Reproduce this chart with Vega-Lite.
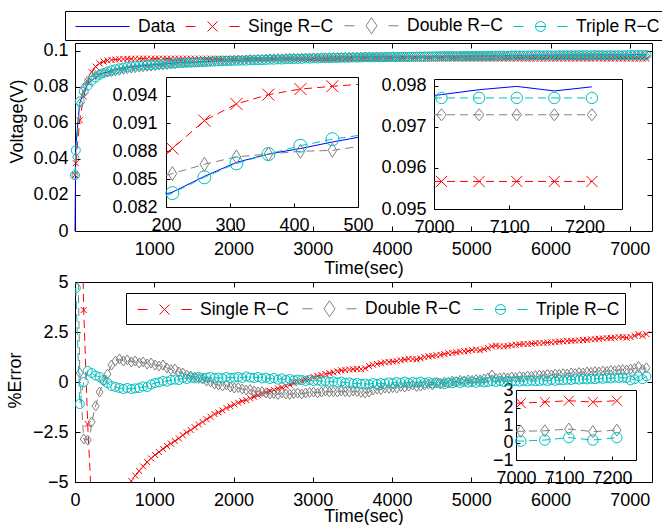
{
"$schema":"https://vega.github.io/schema/vega-lite/v6.json",
"padding":{"left":6,"top":10,"right":0,"bottom":0},
"background":"white",
"config":{
"font":"Liberation Sans",
"view":{"stroke":null},
"axis":{"grid":false,"domainColor":"black","domainWidth":1,"tickColor":"black","tickWidth":1,"tickSize":-5,"labelColor":"black","labelFont":"Liberation Sans","labelFontSize":18,"labelFlush":false,"labelOverlap":false,"labelBound":false,"titleFont":"Liberation Sans","titleFontSize":18,"titleFontWeight":"normal","titleColor":"black","zindex":1},
"legend":{"orient":"none","direction":"horizontal","title":null,"labelFont":"Liberation Sans","labelFontSize":17.5,"labelColor":"black","strokeColor":"black","fillColor":"white","symbolSize":400,"symbolStrokeWidth":1,"symbolFillColor":"transparent","labelOffset":48,"labelLimit":0,"symbolOpacity":1},
"point":{"filled":false,"opacity":1,"strokeWidth":1},
"line":{"strokeWidth":1}
},
"datasets":{"m":[
{"t":0,"d":0,"s":0.031,"w":0.031,"r":0.031},
{"t":10,"d":0.047,"s":0.0376,"w":0.041,"r":0.0448,"es":20,"ew":12.8,"er":4.7},
{"t":60,"d":0.0712,"s":0.0615,"w":0.0709,"r":0.072,"es":13.6,"ew":0.45,"er":-1.1},
{"t":110,"d":0.0775,"s":0.0747,"w":0.0797,"r":0.0775,"es":3.6,"ew":-2.85,"er":0},
{"t":160,"d":0.0812,"s":0.0829,"w":0.0836,"r":0.0808,"es":-2.1,"ew":-2.9,"er":0.55},
{"t":200,"d":0.0834,"s":0.0878,"w":0.0854,"r":0.0832,"es":-5.3,"ew":-2.4,"er":0.5},
{"t":210,"d":0.0836,"s":0.0883,"w":0.0856,"r":0.0835,"es":-5.6,"ew":-2,"er":0.45},
{"t":260,"d":0.0853,"s":0.0913,"w":0.0866,"r":0.0852,"es":-7,"ew":-1.2,"er":0.32},
{"t":310,"d":0.0868,"s":0.0931,"w":0.0874,"r":0.0867,"es":-7.2,"ew":-0.5,"er":0.25},
{"t":360,"d":0.0877,"s":0.0941,"w":0.0877,"r":0.0877,"es":-7.3,"ew":0.05,"er":0.1},
{"t":410,"d":0.0883,"s":0.0947,"w":0.088,"r":0.0886,"es":-7.2,"ew":0.4,"er":-0.05},
{"t":460,"d":0.089,"s":0.095,"w":0.0881,"r":0.0893,"es":-6.7,"ew":0.85,"er":-0.2},
{"t":500,"d":0.0895,"s":0.0952,"w":0.0885,"r":0.0897,"es":-6.4,"ew":1,"er":-0.25},
{"t":510,"d":0.0896,"s":0.0952,"w":0.0886,"r":0.0898,"es":-6.3,"ew":1.05,"er":-0.25},
{"t":560,"d":0.09,"s":0.0954,"w":0.089,"r":0.0903,"es":-6,"ew":1.15,"er":-0.3},
{"t":610,"d":0.0904,"s":0.0955,"w":0.0895,"r":0.0907,"es":-5.6,"ew":1.05,"er":-0.35},
{"t":660,"d":0.0908,"s":0.0956,"w":0.0898,"r":0.0911,"es":-5.3,"ew":1.1,"er":-0.3},
{"t":710,"d":0.0911,"s":0.0956,"w":0.0902,"r":0.0914,"es":-4.95,"ew":1,"er":-0.35},
{"t":760,"d":0.0914,"s":0.0957,"w":0.0904,"r":0.0917,"es":-4.68,"ew":1.05,"er":-0.32},
{"t":810,"d":0.0916,"s":0.0957,"w":0.0907,"r":0.0919,"es":-4.45,"ew":0.95,"er":-0.3},
{"t":860,"d":0.0918,"s":0.0957,"w":0.0909,"r":0.092,"es":-4.22,"ew":1,"er":-0.22},
{"t":910,"d":0.092,"s":0.0957,"w":0.0912,"r":0.0922,"es":-4,"ew":0.9,"er":-0.25},
{"t":960,"d":0.0922,"s":0.0957,"w":0.0913,"r":0.0923,"es":-3.82,"ew":0.95,"er":-0.12},
{"t":1010,"d":0.0924,"s":0.0957,"w":0.0916,"r":0.0924,"es":-3.65,"ew":0.85,"er":-0.05},
{"t":1060,"d":0.0926,"s":0.0957,"w":0.0919,"r":0.0926,"es":-3.5,"ew":0.8,"er":-0.02},
{"t":1110,"d":0.0928,"s":0.0957,"w":0.092,"r":0.0928,"es":-3.34,"ew":0.85,"er":0.05},
{"t":1160,"d":0.0929,"s":0.0957,"w":0.0922,"r":0.0929,"es":-3.2,"ew":0.7,"er":0.02},
{"t":1210,"d":0.0931,"s":0.0957,"w":0.0925,"r":0.093,"es":-3.08,"ew":0.62,"er":0.1},
{"t":1260,"d":0.0932,"s":0.0957,"w":0.0926,"r":0.0931,"es":-2.95,"ew":0.65,"er":0.12},
{"t":1310,"d":0.0934,"s":0.0957,"w":0.0929,"r":0.0933,"es":-2.82,"ew":0.5,"er":0.1},
{"t":1360,"d":0.0935,"s":0.0957,"w":0.0931,"r":0.0933,"es":-2.66,"ew":0.45,"er":0.2},
{"t":1410,"d":0.0936,"s":0.0957,"w":0.0933,"r":0.0935,"es":-2.52,"ew":0.35,"er":0.15},
{"t":1460,"d":0.0937,"s":0.0957,"w":0.0934,"r":0.0935,"es":-2.4,"ew":0.3,"er":0.22},
{"t":1510,"d":0.0938,"s":0.0957,"w":0.0936,"r":0.0936,"es":-2.26,"ew":0.25,"er":0.18},
{"t":1560,"d":0.0939,"s":0.0957,"w":0.0937,"r":0.0937,"es":-2.12,"ew":0.18,"er":0.25},
{"t":1610,"d":0.094,"s":0.0957,"w":0.0939,"r":0.0938,"es":-2,"ew":0.15,"er":0.2},
{"t":1660,"d":0.0941,"s":0.0957,"w":0.0941,"r":0.0939,"es":-1.86,"ew":0.05,"er":0.22},
{"t":1710,"d":0.0942,"s":0.0957,"w":0.0942,"r":0.094,"es":-1.74,"ew":0,"er":0.25},
{"t":1760,"d":0.0943,"s":0.0957,"w":0.0944,"r":0.0941,"es":-1.6,"ew":-0.1,"er":0.2},
{"t":1810,"d":0.0944,"s":0.0957,"w":0.0945,"r":0.0942,"es":-1.52,"ew":-0.15,"er":0.22},
{"t":1860,"d":0.0945,"s":0.0957,"w":0.0947,"r":0.0943,"es":-1.42,"ew":-0.2,"er":0.18},
{"t":1910,"d":0.0946,"s":0.0957,"w":0.0947,"r":0.0944,"es":-1.3,"ew":-0.15,"er":0.25},
{"t":1960,"d":0.0946,"s":0.0957,"w":0.0948,"r":0.0944,"es":-1.22,"ew":-0.25,"er":0.2},
{"t":2010,"d":0.0947,"s":0.0957,"w":0.095,"r":0.0945,"es":-1.12,"ew":-0.3,"er":0.22},
{"t":2060,"d":0.0948,"s":0.0957,"w":0.0951,"r":0.0946,"es":-1.04,"ew":-0.28,"er":0.25},
{"t":2110,"d":0.0948,"s":0.0957,"w":0.0951,"r":0.0946,"es":-0.96,"ew":-0.35,"er":0.2},
{"t":2160,"d":0.0949,"s":0.0957,"w":0.0953,"r":0.0946,"es":-0.9,"ew":-0.4,"er":0.28},
{"t":2210,"d":0.095,"s":0.0957,"w":0.0954,"r":0.0948,"es":-0.82,"ew":-0.38,"er":0.22},
{"t":2260,"d":0.095,"s":0.0957,"w":0.0954,"r":0.0948,"es":-0.74,"ew":-0.45,"er":0.2},
{"t":2310,"d":0.0951,"s":0.0957,"w":0.0956,"r":0.0949,"es":-0.66,"ew":-0.5,"er":0.25},
{"t":2360,"d":0.0951,"s":0.0957,"w":0.0956,"r":0.0949,"es":-0.58,"ew":-0.48,"er":0.18},
{"t":2410,"d":0.0952,"s":0.0957,"w":0.0957,"r":0.095,"es":-0.52,"ew":-0.55,"er":0.22},
{"t":2460,"d":0.0953,"s":0.0957,"w":0.0959,"r":0.0952,"es":-0.45,"ew":-0.6,"er":0.15},
{"t":2510,"d":0.0953,"s":0.0957,"w":0.0959,"r":0.0951,"es":-0.4,"ew":-0.58,"er":0.2},
{"t":2560,"d":0.0954,"s":0.0957,"w":0.096,"r":0.0953,"es":-0.32,"ew":-0.62,"er":0.12},
{"t":2610,"d":0.0954,"s":0.0957,"w":0.0959,"r":0.0952,"es":-0.27,"ew":-0.55,"er":0.18},
{"t":2660,"d":0.0955,"s":0.0957,"w":0.0961,"r":0.0954,"es":-0.2,"ew":-0.6,"er":0.1},
{"t":2710,"d":0.0956,"s":0.0957,"w":0.0962,"r":0.0955,"es":-0.14,"ew":-0.62,"er":0.15},
{"t":2760,"d":0.0956,"s":0.0957,"w":0.0962,"r":0.0955,"es":-0.06,"ew":-0.58,"er":0.08},
{"t":2810,"d":0.0957,"s":0.0957,"w":0.0962,"r":0.0956,"es":0,"ew":-0.55,"er":0.12},
{"t":2860,"d":0.0957,"s":0.0957,"w":0.0963,"r":0.0956,"es":0.06,"ew":-0.6,"er":0.1},
{"t":2910,"d":0.0958,"s":0.0957,"w":0.0963,"r":0.0958,"es":0.12,"ew":-0.55,"er":0.05},
{"t":2960,"d":0.0958,"s":0.0957,"w":0.0963,"r":0.0957,"es":0.18,"ew":-0.52,"er":0.1},
{"t":3010,"d":0.0959,"s":0.0957,"w":0.0964,"r":0.0959,"es":0.26,"ew":-0.5,"er":0.05},
{"t":3060,"d":0.0959,"s":0.0957,"w":0.0964,"r":0.0958,"es":0.3,"ew":-0.55,"er":0.08},
{"t":3110,"d":0.096,"s":0.0957,"w":0.0965,"r":0.096,"es":0.35,"ew":-0.5,"er":0.02},
{"t":3160,"d":0.096,"s":0.0957,"w":0.0964,"r":0.096,"es":0.4,"ew":-0.45,"er":0.05},
{"t":3210,"d":0.096,"s":0.0957,"w":0.0965,"r":0.096,"es":0.44,"ew":-0.5,"er":0},
{"t":3260,"d":0.0961,"s":0.0957,"w":0.0966,"r":0.0961,"es":0.48,"ew":-0.48,"er":0.03},
{"t":3310,"d":0.0961,"s":0.0957,"w":0.0966,"r":0.0961,"es":0.53,"ew":-0.5,"er":-0.02},
{"t":3360,"d":0.0962,"s":0.0957,"w":0.0966,"r":0.0962,"es":0.58,"ew":-0.45,"er":0.02},
{"t":3410,"d":0.0962,"s":0.0957,"w":0.0967,"r":0.0962,"es":0.6,"ew":-0.48,"er":-0.05},
{"t":3460,"d":0.0962,"s":0.0957,"w":0.0967,"r":0.0962,"es":0.62,"ew":-0.5,"er":-0.02},
{"t":3510,"d":0.0963,"s":0.0957,"w":0.0967,"r":0.0964,"es":0.64,"ew":-0.45,"er":-0.08},
{"t":3560,"d":0.0963,"s":0.0957,"w":0.0968,"r":0.0963,"es":0.66,"ew":-0.48,"er":-0.05},
{"t":3610,"d":0.0963,"s":0.0957,"w":0.0968,"r":0.0964,"es":0.64,"ew":-0.52,"er":-0.1},
{"t":3660,"d":0.0964,"s":0.0957,"w":0.0969,"r":0.0965,"es":0.68,"ew":-0.55,"er":-0.08},
{"t":3710,"d":0.0964,"s":0.0957,"w":0.0969,"r":0.0965,"es":0.8,"ew":-0.5,"er":-0.12},
{"t":3760,"d":0.0964,"s":0.0957,"w":0.0968,"r":0.0964,"es":0.86,"ew":-0.4,"er":-0.05},
{"t":3810,"d":0.0965,"s":0.0957,"w":0.0968,"r":0.0966,"es":0.9,"ew":-0.35,"er":-0.1},
{"t":3860,"d":0.0965,"s":0.0957,"w":0.0969,"r":0.0965,"es":0.94,"ew":-0.38,"er":-0.05},
{"t":3910,"d":0.0965,"s":0.0957,"w":0.0968,"r":0.0966,"es":0.98,"ew":-0.3,"er":-0.08},
{"t":3960,"d":0.0966,"s":0.0957,"w":0.0969,"r":0.0966,"es":1,"ew":-0.32,"er":-0.02},
{"t":4010,"d":0.0966,"s":0.0957,"w":0.0969,"r":0.0967,"es":1.02,"ew":-0.28,"er":-0.06},
{"t":4060,"d":0.0966,"s":0.0957,"w":0.0969,"r":0.0966,"es":1.04,"ew":-0.3,"er":0},
{"t":4110,"d":0.0967,"s":0.0957,"w":0.0969,"r":0.0967,"es":1.08,"ew":-0.22,"er":-0.04},
{"t":4160,"d":0.0967,"s":0.0957,"w":0.0969,"r":0.0967,"es":1.12,"ew":-0.25,"er":0.02},
{"t":4210,"d":0.0967,"s":0.0957,"w":0.0969,"r":0.0967,"es":1.16,"ew":-0.2,"er":-0.05},
{"t":4260,"d":0.0968,"s":0.0957,"w":0.0969,"r":0.0968,"es":1.15,"ew":-0.15,"er":0},
{"t":4310,"d":0.0968,"s":0.0957,"w":0.097,"r":0.0968,"es":1.13,"ew":-0.22,"er":-0.03},
{"t":4360,"d":0.0968,"s":0.0957,"w":0.097,"r":0.0968,"es":1.18,"ew":-0.2,"er":0.02},
{"t":4410,"d":0.0969,"s":0.0957,"w":0.097,"r":0.0969,"es":1.24,"ew":-0.15,"er":-0.05},
{"t":4460,"d":0.0969,"s":0.0957,"w":0.097,"r":0.0969,"es":1.28,"ew":-0.1,"er":0},
{"t":4510,"d":0.0969,"s":0.0957,"w":0.097,"r":0.097,"es":1.3,"ew":-0.15,"er":-0.06},
{"t":4560,"d":0.097,"s":0.0957,"w":0.097,"r":0.097,"es":1.34,"ew":-0.05,"er":-0.02},
{"t":4610,"d":0.097,"s":0.0957,"w":0.0971,"r":0.0971,"es":1.36,"ew":-0.08,"er":-0.08},
{"t":4660,"d":0.097,"s":0.0957,"w":0.097,"r":0.0971,"es":1.4,"ew":0,"er":-0.1},
{"t":4710,"d":0.0971,"s":0.0957,"w":0.0971,"r":0.0971,"es":1.44,"ew":-0.02,"er":-0.04},
{"t":4760,"d":0.0971,"s":0.0957,"w":0.0971,"r":0.0972,"es":1.46,"ew":0.05,"er":-0.06},
{"t":4810,"d":0.0971,"s":0.0957,"w":0.0971,"r":0.0971,"es":1.48,"ew":0.02,"er":0},
{"t":4860,"d":0.0971,"s":0.0957,"w":0.097,"r":0.0971,"es":1.52,"ew":0.08,"er":-0.05},
{"t":4910,"d":0.0972,"s":0.0957,"w":0.0972,"r":0.0972,"es":1.54,"ew":0.05,"er":0.02},
{"t":4960,"d":0.0972,"s":0.0957,"w":0.0971,"r":0.0972,"es":1.55,"ew":0.1,"er":-0.03},
{"t":5010,"d":0.0972,"s":0.0957,"w":0.0971,"r":0.0972,"es":1.6,"ew":0.08,"er":0},
{"t":5060,"d":0.0972,"s":0.0957,"w":0.0971,"r":0.0972,"es":1.62,"ew":0.12,"er":-0.04},
{"t":5110,"d":0.0973,"s":0.0957,"w":0.0972,"r":0.0973,"es":1.58,"ew":0.1,"er":0.02},
{"t":5160,"d":0.0973,"s":0.0957,"w":0.0972,"r":0.0973,"es":1.64,"ew":0.15,"er":-0.02},
{"t":5210,"d":0.0973,"s":0.0957,"w":0.0971,"r":0.0973,"es":1.7,"ew":0.2,"er":0},
{"t":5260,"d":0.0973,"s":0.0957,"w":0.097,"r":0.0973,"es":1.78,"ew":0.35,"er":0.04},
{"t":5310,"d":0.0974,"s":0.0957,"w":0.0972,"r":0.0974,"es":1.82,"ew":0.18,"er":0},
{"t":5360,"d":0.0974,"s":0.0957,"w":0.0972,"r":0.0974,"es":1.78,"ew":0.2,"er":0.05},
{"t":5410,"d":0.0974,"s":0.0957,"w":0.0972,"r":0.0974,"es":1.78,"ew":0.22,"er":0},
{"t":5460,"d":0.0974,"s":0.0957,"w":0.0972,"r":0.0973,"es":1.8,"ew":0.2,"er":0.06},
{"t":5510,"d":0.0975,"s":0.0957,"w":0.0973,"r":0.0975,"es":1.84,"ew":0.25,"er":0.02},
{"t":5560,"d":0.0975,"s":0.0957,"w":0.0973,"r":0.0975,"es":1.86,"ew":0.22,"er":0.05},
{"t":5610,"d":0.0975,"s":0.0957,"w":0.0972,"r":0.0975,"es":1.88,"ew":0.28,"er":0.02},
{"t":5660,"d":0.0975,"s":0.0957,"w":0.0973,"r":0.0974,"es":1.9,"ew":0.25,"er":0.06},
{"t":5710,"d":0.0975,"s":0.0957,"w":0.0972,"r":0.0975,"es":1.9,"ew":0.3,"er":0.03},
{"t":5760,"d":0.0976,"s":0.0957,"w":0.0973,"r":0.0975,"es":1.92,"ew":0.28,"er":0.07},
{"t":5810,"d":0.0976,"s":0.0957,"w":0.0973,"r":0.0976,"es":1.94,"ew":0.32,"er":0.04},
{"t":5860,"d":0.0976,"s":0.0957,"w":0.0973,"r":0.0976,"es":1.95,"ew":0.35,"er":0.05},
{"t":5910,"d":0.0976,"s":0.0957,"w":0.0973,"r":0.0975,"es":1.96,"ew":0.33,"er":0.08},
{"t":5960,"d":0.0976,"s":0.0957,"w":0.0972,"r":0.0976,"es":1.97,"ew":0.38,"er":0.05},
{"t":6010,"d":0.0976,"s":0.0957,"w":0.0973,"r":0.0975,"es":1.98,"ew":0.35,"er":0.1},
{"t":6060,"d":0.0976,"s":0.0957,"w":0.0972,"r":0.0975,"es":2,"ew":0.4,"er":0.06},
{"t":6110,"d":0.0977,"s":0.0957,"w":0.0973,"r":0.0976,"es":2.02,"ew":0.38,"er":0.1},
{"t":6160,"d":0.0977,"s":0.0957,"w":0.0973,"r":0.0976,"es":2.03,"ew":0.42,"er":0.08},
{"t":6210,"d":0.0977,"s":0.0957,"w":0.0973,"r":0.0976,"es":2.05,"ew":0.4,"er":0.12},
{"t":6260,"d":0.0977,"s":0.0957,"w":0.0973,"r":0.0976,"es":2.06,"ew":0.45,"er":0.1},
{"t":6310,"d":0.0977,"s":0.0957,"w":0.0973,"r":0.0976,"es":2.07,"ew":0.42,"er":0.14},
{"t":6360,"d":0.0977,"s":0.0957,"w":0.0972,"r":0.0976,"es":2.08,"ew":0.47,"er":0.12},
{"t":6410,"d":0.0977,"s":0.0957,"w":0.0973,"r":0.0976,"es":2.1,"ew":0.45,"er":0.15},
{"t":6460,"d":0.0977,"s":0.0957,"w":0.0972,"r":0.0976,"es":2.11,"ew":0.5,"er":0.13},
{"t":6510,"d":0.0977,"s":0.0957,"w":0.0972,"r":0.0975,"es":2.13,"ew":0.48,"er":0.16},
{"t":6560,"d":0.0978,"s":0.0957,"w":0.0973,"r":0.0977,"es":2.14,"ew":0.52,"er":0.14},
{"t":6610,"d":0.0978,"s":0.0957,"w":0.0973,"r":0.0976,"es":2.16,"ew":0.5,"er":0.18},
{"t":6660,"d":0.0978,"s":0.0957,"w":0.0973,"r":0.0976,"es":2.18,"ew":0.55,"er":0.16},
{"t":6710,"d":0.0978,"s":0.0957,"w":0.0973,"r":0.0976,"es":2.19,"ew":0.53,"er":0.2},
{"t":6760,"d":0.0978,"s":0.0957,"w":0.0972,"r":0.0976,"es":2.2,"ew":0.58,"er":0.18},
{"t":6810,"d":0.0978,"s":0.0957,"w":0.0973,"r":0.0976,"es":2.22,"ew":0.56,"er":0.22},
{"t":6860,"d":0.0978,"s":0.0957,"w":0.0972,"r":0.0976,"es":2.24,"ew":0.6,"er":0.2},
{"t":6910,"d":0.0978,"s":0.0957,"w":0.0972,"r":0.0976,"es":2.25,"ew":0.62,"er":0.22},
{"t":6960,"d":0.0978,"s":0.0957,"w":0.0972,"r":0.0976,"es":2.22,"ew":0.6,"er":0.2},
{"t":7000,"d":0.09776,"s":0.09567,"w":0.09729,"r":0.0977,"es":2.24,"ew":0.63,"er":0.1},
{"t":7010,"d":0.09778,"s":0.09567,"w":0.09729,"r":0.0977,"es":2.25,"ew":0.64,"er":0.08},
{"t":7060,"d":0.0979,"s":0.09567,"w":0.09729,"r":0.0977,"es":2.31,"ew":0.67,"er":0.14},
{"t":7110,"d":0.09798,"s":0.09567,"w":0.09729,"r":0.0977,"es":2.39,"ew":0.77,"er":0.28},
{"t":7160,"d":0.09787,"s":0.09567,"w":0.09729,"r":0.0977,"es":2.31,"ew":0.62,"er":0.14},
{"t":7210,"d":0.09797,"s":0.09567,"w":0.09729,"r":0.0977,"es":2.39,"ew":0.71,"er":0.28}
]},
"spacing":51,
"bounds":"flush",
"resolve":{"scale":{"color":"shared","shape":"shared"},"legend":{"color":"independent","shape":"independent"}},
"vconcat":[
{
"width":577,"height":188,
"data":{"name":"m"},
"layer":[
{
"encoding":{
"x":{"field":"t","type":"quantitative","scale":{"domain":[0,7280],"nice":false,"zero":false},"axis":null},
"y":{"field":"d","type":"quantitative","scale":{"domain":[0,0.1044],"nice":false,"zero":false},"axis":null}
},
"layer":[
{"mark":{"type":"line","color":"#0000ff"},
"encoding":{
"x":{"field":"t","type":"quantitative","scale":{"domain":[0,7280],"nice":false,"zero":false},"axis":{"orient":"bottom","values":[1000,2000,3000,4000,5000,6000,7000],"format":"d","title":"Time(sec)","titleY":37,"titleBaseline":"middle","labelPadding":14}},
"y":{"field":"d","type":"quantitative","scale":{"domain":[0,0.1044],"nice":false,"zero":false},"axis":{"orient":"left","values":[0,0.02,0.04,0.06,0.08,0.1],"format":".2~f","title":"Voltage(V)","titleX":-58,"titleY":78,"titleBaseline":"middle","labelPadding":12}}
}},
{"mark":{"type":"line","color":"#ff0000","strokeDash":[8,5]},
"encoding":{
"x":{"field":"t","type":"quantitative","axis":{"orient":"top","values":[1000,2000,3000,4000,5000,6000,7000],"labels":false,"title":null}},
"y":{"field":"s","type":"quantitative","axis":{"orient":"right","values":[0.02,0.04,0.06,0.08,0.1],"labels":false,"title":null}}
}},
{"transform":[{"filter":"datum.t != 200 && datum.t != 500 && datum.t != 7000"}],"mark":{"type":"point","shape":"M-1,-1L1,1M-1,1L1,-1","size":36,"color":"#ff0000"},"encoding":{"y":{"field":"s","type":"quantitative","axis":null}}},
{"mark":{"type":"line","color":"#808080","strokeDash":[8,5]},"encoding":{"y":{"field":"w","type":"quantitative","axis":null}}},
{"transform":[{"filter":"datum.t != 200 && datum.t != 500 && datum.t != 7000"}],"mark":{"type":"point","shape":"M0,-1L0.7,0L0,1L-0.7,0Z","size":81,"color":"#808080"},"encoding":{"y":{"field":"w","type":"quantitative","axis":null}}},
{"mark":{"type":"line","color":"#00bfbf","strokeDash":[8,5]},"encoding":{"y":{"field":"r","type":"quantitative","axis":null}}},
{"transform":[{"filter":"datum.t != 200 && datum.t != 500 && datum.t != 7000"}],"mark":{"type":"point","shape":"circle","size":81,"color":"#00bfbf"},"encoding":{"y":{"field":"r","type":"quantitative","axis":null}}}
],
"resolve":{"axis":{"x":"independent","y":"independent"}}
},
{
"transform":[{"filter":"datum.t >= 200 && datum.t <= 500"}],
"encoding":{
"x":{"field":"t","type":"quantitative","scale":{"domain":[200,500],"range":[91,283],"nice":false,"zero":false},"axis":null},
"y":{"field":"d","type":"quantitative","scale":{"domain":[0.082,0.096],"range":[164,34],"nice":false,"zero":false},"axis":null}
},
"layer":[
{"data":{"values":[{}]},"mark":{"type":"rect","fill":"white"},
"encoding":{
"x":{"datum":200,"type":"quantitative","scale":{"domain":[200,500],"range":[91,283],"nice":false,"zero":false},"axis":{"orient":"top","offset":-34,"ticks":false,"labels":false,"title":null}},
"x2":{"datum":500},
"y":{"datum":0.082,"type":"quantitative","scale":{"domain":[0.082,0.096],"range":[164,34],"nice":false,"zero":false},"axis":{"orient":"right","offset":-294,"ticks":false,"labels":false,"title":null}},
"y2":{"datum":0.096}
}},
{"mark":{"type":"line","color":"#0000ff"},
"encoding":{
"x":{"field":"t","type":"quantitative","scale":{"domain":[200,500],"range":[91,283],"nice":false,"zero":false},"axis":{"orient":"bottom","offset":-24,"values":[200,300,400,500],"format":"d","tickSize":-4,"labelPadding":13,"title":null}},
"y":{"field":"d","type":"quantitative","scale":{"domain":[0.082,0.096],"range":[164,34],"nice":false,"zero":false},"axis":{"orient":"left","offset":-91,"values":[0.082,0.085,0.088,0.091,0.094],"format":".3f","tickSize":-4,"labelPadding":13,"title":null}}
}},
{"mark":{"type":"line","color":"#ff0000","strokeDash":[8,5]},"encoding":{"y":{"field":"s","type":"quantitative","axis":null}}},
{"transform":[{"filter":"datum.t != 200 && datum.t != 500"}],"mark":{"type":"point","shape":"M-1,-1L1,1M-1,1L1,-1","size":144,"color":"#ff0000"},"encoding":{"y":{"field":"s","type":"quantitative","axis":null}}},
{"mark":{"type":"line","color":"#808080","strokeDash":[8,5]},"encoding":{"y":{"field":"w","type":"quantitative","axis":null}}},
{"transform":[{"filter":"datum.t != 200 && datum.t != 500"}],"mark":{"type":"point","shape":"M0,-1L0.62,0L0,1L-0.62,0Z","size":196,"color":"#808080"},"encoding":{"y":{"field":"w","type":"quantitative","axis":null}}},
{"mark":{"type":"line","color":"#00bfbf","strokeDash":[8,5]},"encoding":{"y":{"field":"r","type":"quantitative","axis":null}}},
{"transform":[{"filter":"datum.t != 200 && datum.t != 500"}],"mark":{"type":"point","shape":"circle","size":169,"color":"#00bfbf"},"encoding":{"y":{"field":"r","type":"quantitative","axis":null}}}
],
"resolve":{"axis":{"x":"independent","y":"independent"}}
},
{
"transform":[{"filter":"datum.t >= 7000"}],
"encoding":{
"x":{"field":"t","type":"quantitative","scale":{"domain":[7000,7250],"range":[359,547],"nice":false,"zero":false},"axis":null},
"y":{"field":"d","type":"quantitative","scale":{"domain":[0.095,0.09816],"range":[166,36],"nice":false,"zero":false},"axis":null}
},
"layer":[
{"data":{"values":[{}]},"mark":{"type":"rect","fill":"white"},
"encoding":{
"x":{"datum":7000,"type":"quantitative","scale":{"domain":[7000,7250],"range":[359,547],"nice":false,"zero":false},"axis":{"orient":"top","offset":-36,"ticks":false,"labels":false,"title":null}},
"x2":{"datum":7250},
"y":{"datum":0.095,"type":"quantitative","scale":{"domain":[0.095,0.09816],"range":[166,36],"nice":false,"zero":false},"axis":{"orient":"right","offset":-30,"ticks":false,"labels":false,"title":null}},
"y2":{"datum":0.09816}
}},
{"mark":{"type":"line","color":"#0000ff"},
"encoding":{
"x":{"field":"t","type":"quantitative","scale":{"domain":[7000,7250],"range":[359,547],"nice":false,"zero":false},"axis":{"orient":"bottom","offset":-22,"values":[7000,7100,7200],"format":"d","tickSize":-4,"labelPadding":13,"title":null}},
"y":{"field":"d","type":"quantitative","scale":{"domain":[0.095,0.09816],"range":[166,36],"nice":false,"zero":false},"axis":{"orient":"left","offset":-359,"values":[0.095,0.096,0.097,0.098],"format":".3f","tickSize":-4,"labelPadding":12,"title":null}}
}},
{"mark":{"type":"line","color":"#ff0000","strokeDash":[8,5]},"encoding":{"y":{"field":"s","type":"quantitative","axis":null}}},
{"transform":[{"filter":"datum.t != 7000"}],"mark":{"type":"point","shape":"M-1,-1L1,1M-1,1L1,-1","size":121,"color":"#ff0000"},"encoding":{"y":{"field":"s","type":"quantitative","axis":null}}},
{"mark":{"type":"line","color":"#808080","strokeDash":[8,5]},"encoding":{"y":{"field":"w","type":"quantitative","axis":null}}},
{"transform":[{"filter":"datum.t != 7000"}],"mark":{"type":"point","shape":"M0,-1L0.8,0L0,1L-0.8,0Z","size":144,"color":"#808080"},"encoding":{"y":{"field":"w","type":"quantitative","axis":null}}},
{"mark":{"type":"line","color":"#00bfbf","strokeDash":[8,5]},"encoding":{"y":{"field":"r","type":"quantitative","axis":null}}},
{"transform":[{"filter":"datum.t != 7000"}],"mark":{"type":"point","shape":"circle","size":130,"color":"#00bfbf"},"encoding":{"y":{"field":"r","type":"quantitative","axis":null}}}
],
"resolve":{"axis":{"x":"independent","y":"independent"}}
},
{
"data":{"values":[]},
"mark":{"type":"point"},
"encoding":{
"color":{"field":"k","type":"nominal","scale":{"domain":["Data","Singe R−C","Double R−C","Triple R−C"],"range":["#0000ff","#ff0000","#808080","#00bfbf"]},"legend":{"values":["Data","Singe R−C","Double R−C","Triple R−C"],"legendX":-10,"legendY":-32,"padding":4,"columnPadding":4}},
"shape":{"field":"k","type":"nominal","scale":{"domain":["Data","Singe R−C","Double R−C","Triple R−C"],"range":["M-0.4,0H5","M-0.4,0H0.6M1.8,-0.5L2.8,0.5M1.8,0.5L2.8,-0.5M4,0H5","M-0.4,0H0.6M2.3,-0.8L2.85,0L2.3,0.8L1.75,0ZM4,0H5","M-0.4,0H0.6M2.8,0A0.5,0.5 0 1,1 1.8,0A0.5,0.5 0 1,1 2.8,0ZM1.8,0H2.8M4,0H5"]},"legend":{"values":["Data","Singe R−C","Double R−C","Triple R−C"],"legendX":-10,"legendY":-32,"padding":4,"columnPadding":4}}
}
}
],
"resolve":{"scale":{"x":"independent","y":"independent"}}
},
{
"width":577,"height":200,
"data":{"name":"m"},
"layer":[
{
"encoding":{
"x":{"field":"t","type":"quantitative","scale":{"domain":[0,7280],"nice":false,"zero":false},"axis":null},
"y":{"field":"es","type":"quantitative","scale":{"domain":[-5,5],"nice":false,"zero":false},"axis":null}
},
"layer":[
{"mark":{"type":"line","color":"#ff0000","strokeDash":[8,5],"clip":true},
"encoding":{
"x":{"field":"t","type":"quantitative","scale":{"domain":[0,7280],"nice":false,"zero":false},"axis":{"orient":"bottom","values":[0,1000,2000,3000,4000,5000,6000,7000],"format":"d","title":"Time(sec)","titleY":34,"titleBaseline":"middle","labelPadding":14}},
"y":{"field":"es","type":"quantitative","scale":{"domain":[-5,5],"nice":false,"zero":false},"axis":{"orient":"left","values":[-5,-2.5,0,2.5,5],"format":".2~g","title":"%Error","titleX":-60,"titleY":98,"titleBaseline":"middle","labelPadding":12}}
}},
{"transform":[{"filter":"datum.t != 200 && datum.t != 500 && datum.t != 7000"}],"mark":{"type":"point","shape":"M-1,-1L1,1M-1,1L1,-1","size":36,"color":"#ff0000","clip":true},"encoding":{"y":{"field":"es","type":"quantitative","axis":null}}},
{"mark":{"type":"line","color":"#808080","strokeDash":[8,5],"clip":true},
"encoding":{
"x":{"field":"t","type":"quantitative","axis":{"orient":"top","values":[1000,2000,3000,4000,5000,6000,7000],"labels":false,"title":null}},
"y":{"field":"ew","type":"quantitative","axis":{"orient":"right","values":[-2.5,0,2.5],"labels":false,"title":null}}
}},
{"transform":[{"filter":"datum.t != 200 && datum.t != 500 && datum.t != 7000"}],"mark":{"type":"point","shape":"M0,-1L0.7,0L0,1L-0.7,0Z","size":100,"color":"#808080","clip":true},"encoding":{"y":{"field":"ew","type":"quantitative","axis":null}}},
{"mark":{"type":"line","color":"#00bfbf","strokeDash":[8,5],"clip":true},"encoding":{"y":{"field":"er","type":"quantitative","axis":null}}},
{"transform":[{"filter":"datum.t != 200 && datum.t != 500 && datum.t != 7000"}],"mark":{"type":"point","shape":"circle","size":81,"color":"#00bfbf","clip":true},"encoding":{"y":{"field":"er","type":"quantitative","axis":null}}}
],
"resolve":{"axis":{"x":"independent","y":"independent"}}
},
{
"transform":[{"filter":"datum.t >= 7000"}],
"encoding":{
"x":{"field":"t","type":"quantitative","scale":{"domain":[7000,7250],"range":[441,561],"nice":false,"zero":false},"axis":null},
"y":{"field":"es","type":"quantitative","scale":{"domain":[-1,3],"range":[178,108],"nice":false,"zero":false},"axis":null}
},
"layer":[
{"data":{"values":[{}]},"mark":{"type":"rect","fill":"white"},
"encoding":{
"x":{"datum":7000,"type":"quantitative","scale":{"domain":[7000,7250],"range":[441,561],"nice":false,"zero":false},"axis":{"orient":"top","offset":-108,"ticks":false,"labels":false,"title":null}},
"x2":{"datum":7250},
"y":{"datum":-1,"type":"quantitative","scale":{"domain":[-1,3],"range":[178,108],"nice":false,"zero":false},"axis":{"orient":"right","offset":-16,"ticks":false,"labels":false,"title":null}},
"y2":{"datum":3}
}},
{"mark":{"type":"line","color":"#ff0000","strokeDash":[8,5]},
"encoding":{
"x":{"field":"t","type":"quantitative","scale":{"domain":[7000,7250],"range":[441,561],"nice":false,"zero":false},"axis":{"orient":"bottom","offset":-22,"values":[7000,7100,7200],"format":"d","tickSize":-4,"labelPadding":13,"title":null}},
"y":{"field":"es","type":"quantitative","scale":{"domain":[-1,3],"range":[178,108],"nice":false,"zero":false},"axis":{"orient":"left","offset":-441,"values":[-1,0,1,2,3],"format":"d","tickSize":-4,"labelPadding":7,"title":null}}
}},
{"transform":[{"filter":"datum.t != 7000"}],"mark":{"type":"point","shape":"M-1,-1L1,1M-1,1L1,-1","size":100,"color":"#ff0000"},"encoding":{"y":{"field":"es","type":"quantitative","axis":null}}},
{"mark":{"type":"line","color":"#808080","strokeDash":[8,5]},"encoding":{"y":{"field":"ew","type":"quantitative","axis":null}}},
{"transform":[{"filter":"datum.t != 7000"}],"mark":{"type":"point","shape":"M0,-1L0.7,0L0,1L-0.7,0Z","size":144,"color":"#808080"},"encoding":{"y":{"field":"ew","type":"quantitative","axis":null}}},
{"mark":{"type":"line","color":"#00bfbf","strokeDash":[8,5]},"encoding":{"y":{"field":"er","type":"quantitative","axis":null}}},
{"transform":[{"filter":"datum.t != 7000"}],"mark":{"type":"point","shape":"circle","size":110,"color":"#00bfbf"},"encoding":{"y":{"field":"er","type":"quantitative","axis":null}}}
],
"resolve":{"axis":{"x":"independent","y":"independent"}}
},
{
"data":{"values":[]},
"mark":{"type":"point"},
"encoding":{
"color":{"field":"k","type":"nominal","scale":{"domain":["Data","Singe R−C","Double R−C","Triple R−C"],"range":["#0000ff","#ff0000","#808080","#00bfbf"]},"legend":{"values":["Singe R−C","Double R−C","Triple R−C"],"labelExpr":"datum.label == 'Singe R−C' ? 'Single R−C' : datum.label","legendX":51,"legendY":11,"padding":5,"columnPadding":6}},
"shape":{"field":"k","type":"nominal","scale":{"domain":["Data","Singe R−C","Double R−C","Triple R−C"],"range":["M-0.4,0H5","M-0.4,0H0.6M1.8,-0.5L2.8,0.5M1.8,0.5L2.8,-0.5M4,0H5","M-0.4,0H0.6M2.3,-0.8L2.85,0L2.3,0.8L1.75,0ZM4,0H5","M-0.4,0H0.6M2.8,0A0.5,0.5 0 1,1 1.8,0A0.5,0.5 0 1,1 2.8,0ZM1.8,0H2.8M4,0H5"]},"legend":{"values":["Singe R−C","Double R−C","Triple R−C"],"labelExpr":"datum.label == 'Singe R−C' ? 'Single R−C' : datum.label","legendX":51,"legendY":11,"padding":5,"columnPadding":6}}
}
}
],
"resolve":{"scale":{"x":"independent","y":"independent"}}
}
]
}
